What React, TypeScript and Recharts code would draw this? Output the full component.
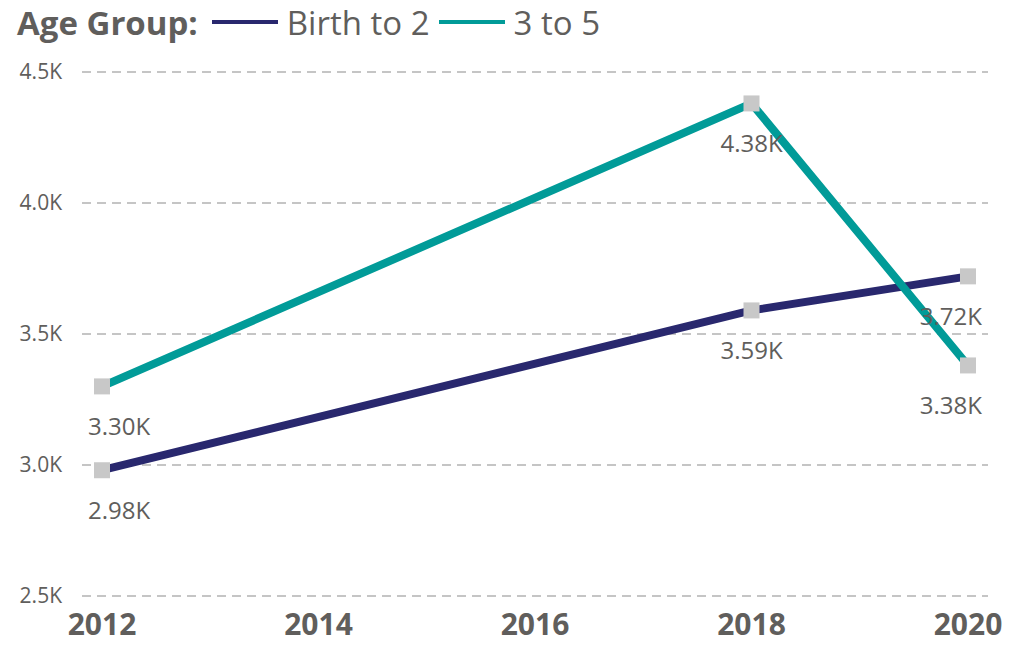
import { LineChart, Line, XAxis, YAxis, CartesianGrid, LabelList } from "recharts";

const years = [2012, 2018, 2020];
const birthTo2 = [2980, 3590, 3720];
const threeTo5 = [3300, 4380, 3380];
const xTicks = [2012, 2014, 2016, 2018, 2020];
const yTicks = [2500, 3000, 3500, 4000, 4500];
const seriesNames = ["Birth to 2", "3 to 5"];
const seriesColors = ["#29286E", "#019B98"];

const data = years.map((year, i) => ({
  year,
  a: birthTo2[i],
  b: threeTo5[i],
}));

const FONT = "'Segoe UI', 'Open Sans', sans-serif";
const GREY = "#605E5C";

const SquareDot = (props: any) => {
  const { cx, cy, index } = props;
  if (cx == null || cy == null) return null;
  return <rect key={`d-${index}`} x={cx - 8} y={cy - 8} width={16} height={16} fill="#C8C8C8" />;
};

const ValueLabel = (props: any) => {
  const { x, y, value, index } = props;
  const last = years.length - 1;
  let anchor: "start" | "middle" | "end" = "middle";
  let tx = x;
  if (index === 0) {
    anchor = "start";
    tx = x - 14;
  } else if (index === last) {
    anchor = "end";
    tx = x + 14;
  }
  return (
    <text
      x={tx}
      y={y + 49}
      textAnchor={anchor}
      fontSize={24}
      fontFamily={FONT}
      fill={GREY}
    >
      {`${(value / 1000).toFixed(2)}K`}
    </text>
  );
};

export default function App() {
  return (
    <div style={{ position: "absolute", left: 0, top: 0, width: 1011, height: 645, background: "#fff", fontFamily: FONT }}>
      {/* legend */}
      <div
        style={{
          position: "absolute",
          left: 17,
          top: 0,
          height: 44,
          display: "flex",
          alignItems: "center",
          fontSize: 33,
          color: GREY,
          whiteSpace: "nowrap",
        }}
      >
        <span style={{ fontWeight: 700, marginRight: 14 }}>Age Group:</span>
        {seriesNames.map((name, i) => (
          <span key={name} style={{ display: "flex", alignItems: "center", marginRight: 9 }}>
            <span style={{ display: "inline-block", width: 66, height: 4, background: seriesColors[i], marginRight: 9 }} />
            {name}
          </span>
        ))}
      </div>
      <LineChart width={1011} height={645} data={data} margin={{ top: 72, right: 23, left: 0, bottom: 0 }}>
        <CartesianGrid vertical={false} stroke="#B3B3B3" strokeDasharray="9 6" strokeWidth={1.5} />
        <XAxis
          dataKey="year"
          type="number"
          domain={[2012, 2020]}
          ticks={xTicks}
          padding={{ left: 20, right: 20 }}
          axisLine={false}
          tickLine={false}
          tickSize={0}
          tickMargin={18}
          height={49}
          tick={{ fontSize: 30, fontWeight: 700, fill: GREY, fontFamily: FONT }}
        />
        <YAxis
          domain={[2500, 4500]}
          ticks={yTicks}
          axisLine={false}
          tickLine={false}
          tickSize={0}
          tickMargin={20}
          width={82}
          tickFormatter={(v: number) => `${(v / 1000).toFixed(1)}K`}
          tick={{ fontSize: 21, fill: GREY, fontFamily: FONT }}
        />
        <Line
          dataKey="a"
          name={seriesNames[0]}
          stroke={seriesColors[0]}
          strokeWidth={8}
          dot={SquareDot}
          activeDot={false}
          isAnimationActive={false}
        >
          <LabelList dataKey="a" content={ValueLabel} />
        </Line>
        <Line
          dataKey="b"
          name={seriesNames[1]}
          stroke={seriesColors[1]}
          strokeWidth={8}
          dot={SquareDot}
          activeDot={false}
          isAnimationActive={false}
        >
          <LabelList dataKey="b" content={ValueLabel} />
        </Line>
      </LineChart>
    </div>
  );
}
